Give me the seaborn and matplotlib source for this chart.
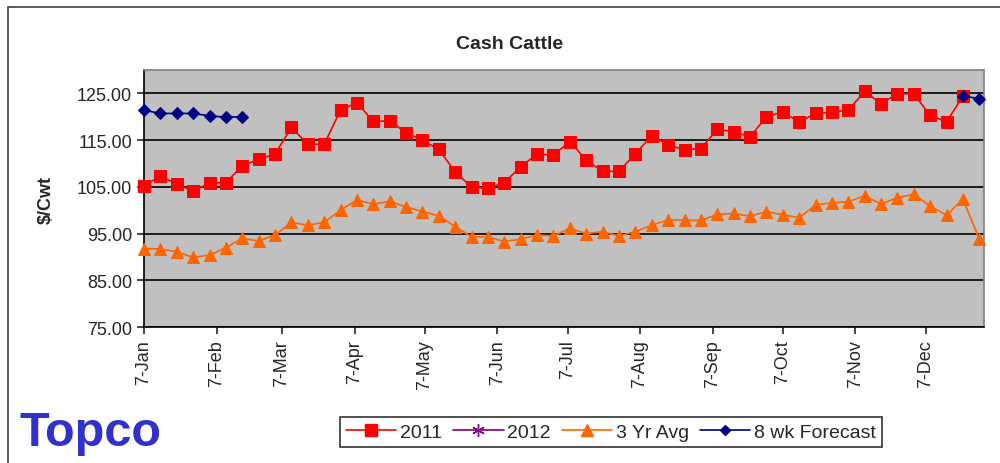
import numpy as np
import pandas as pd
import seaborn as sns
import matplotlib.pyplot as plt
import matplotlib.dates as mdates
from matplotlib.lines import Line2D
from matplotlib.patches import Rectangle

# weekly cash cattle prices, $/cwt (week 1 = 7-Jan)
weeks = pd.date_range("2011-01-07", periods=52, freq="7D")
price_2011 = [105.2, 107.3, 105.6, 104.1, 105.8, 105.9, 109.5, 110.9, 112.0, 117.7,
              114.1, 114.1, 121.4, 123.0, 119.0, 119.1, 116.6, 115.0, 113.0, 108.2,
              104.9, 104.7, 105.9, 109.3, 112.0, 111.8, 114.7, 110.7, 108.3, 108.3,
              112.1, 115.9, 114.0, 112.9, 113.2, 117.3, 116.8, 115.7, 120.0, 121.0,
              118.9, 120.7, 121.0, 121.4, 125.4, 122.8, 124.9, 124.9, 120.3, 118.9,
              124.4, np.nan]
price_2012 = []
avg_3yr = [91.8, 91.7, 91.1, 89.9, 90.4, 92.0, 94.0, 93.4, 94.7, 97.4,
           96.8, 97.4, 100.0, 102.2, 101.3, 101.9, 100.7, 99.7, 98.8, 96.5,
           94.3, 94.3, 93.3, 93.8, 94.7, 94.5, 96.1, 95.0, 95.4, 94.5,
           95.4, 96.8, 97.9, 97.9, 97.8, 99.1, 99.3, 98.7, 99.7, 99.0,
           98.4, 101.1, 101.6, 101.8, 103.1, 101.3, 102.7, 103.4, 100.9, 98.9,
           102.4, 93.8]
# 8 week forecast: weeks 1-7 and weeks 51-52
forecast_head = [121.4, 120.7, 120.7, 120.7, 120.2, 119.9, 120.0]
forecast_tail = [124.4, 123.9]

series_labels = ["2011", "2012", "3 Yr Avg", "8 wk Forecast"]
yticks = [75, 85, 95, 105, 115, 125]

sns.set_style("ticks")
plt.rcParams["font.family"] = ["Liberation Sans", "DejaVu Sans"]

fig = plt.figure(figsize=(10, 4.64), dpi=100)
ax = fig.add_axes([0.144, 0.293, 0.840, 0.554])
ax.set_facecolor("#c0c0c0")

# outer chart frame
fig.add_artist(Rectangle((0.008, -0.1), 1.1, 1.083, transform=fig.transFigure,
                         fill=False, edgecolor="#404040", linewidth=1.2, clip_on=False))

for y in yticks:
    ax.axhline(y, color="black", linewidth=1.2, zorder=1)

sns.lineplot(x=weeks, y=avg_3yr, ax=ax, color="#ff6600", marker="^", markersize=9,
             markeredgecolor="#ff6600", linewidth=1.2, legend=False, zorder=3,
             clip_on=False)
sns.lineplot(x=weeks, y=price_2011, ax=ax, color="#ff0000", marker="s", markersize=8.5,
             markeredgecolor="#ff0000", linewidth=1.2, legend=False, zorder=4,
             clip_on=False)
sns.lineplot(x=weeks[:len(forecast_head)], y=forecast_head, ax=ax, color="#000080",
             marker="D", markersize=6, markeredgecolor="#000080", linewidth=1.2,
             legend=False, zorder=5, clip_on=False)
sns.lineplot(x=weeks[-len(forecast_tail):], y=forecast_tail, ax=ax, color="#000080",
             marker="D", markersize=6, markeredgecolor="#000080", linewidth=1.2,
             legend=False, zorder=5, clip_on=False)

ax.set_ylim(75, 130)
ax.set_yticks(yticks)
ax.yaxis.set_major_formatter(plt.FormatStrFormatter("%.2f"))
ax.set_xlim(pd.Timestamp("2011-01-07"), pd.Timestamp("2012-01-01"))
ax.set_xticks(pd.date_range("2011-01-01", periods=12, freq="MS") + pd.Timedelta(days=6))
ax.xaxis.set_major_formatter(mdates.DateFormatter("%-d-%b"))
ax.tick_params(axis="x", rotation=90, labelsize=13, length=5, width=1.2, direction="out")
ax.tick_params(axis="y", labelsize=13, length=5, width=1.2, direction="out")
ax.grid(False)

for side in ["left", "bottom"]:
    ax.spines[side].set_color("black")
    ax.spines[side].set_linewidth(1.2)
for side in ["top", "right"]:
    ax.spines[side].set_visible(True)
    ax.spines[side].set_color("#808080")
    ax.spines[side].set_linewidth(1.2)

ax.set_xlabel("")
ax.set_ylabel(r"\$/Cwt", fontsize=13, fontweight="bold", labelpad=16)
fig.text(0.51, 0.905, "Cash Cattle", ha="center", va="center", fontsize=14,
         fontweight="bold")

handles = [
    Line2D([], [], color="#ff0000", marker="s", markersize=8, linewidth=1.2),
    Line2D([], [], color="#800080", marker=(6, 2, 0), markersize=9, linewidth=1.2),
    Line2D([], [], color="#ff6600", marker="^", markersize=8, linewidth=1.2),
    Line2D([], [], color="#000080", marker="D", markersize=5, linewidth=1.2),
]
leg = fig.legend(handles, series_labels, loc="center", bbox_to_anchor=(0.611, 0.067),
                 ncol=4, fontsize=14, frameon=True, fancybox=False, handlelength=2.6,
                 handletextpad=0.2, columnspacing=0.55, borderpad=0.3)
leg.get_frame().set_edgecolor("black")
leg.get_frame().set_linewidth(1.2)

# company logo as text
fig.text(0.02, 0.065, "Topco", ha="left", va="center", fontsize=35,
         fontweight="bold", color="#3030cc")

plt.savefig("out.png", dpi=100)
